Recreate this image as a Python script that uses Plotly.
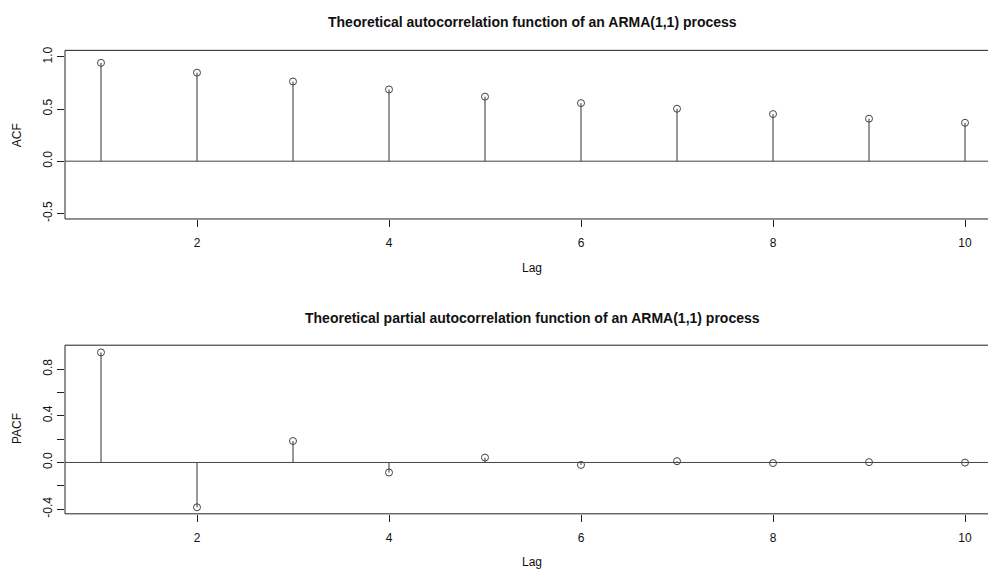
import plotly.graph_objects as go

lags = [1, 2, 3, 4, 5, 6, 7, 8, 9, 10]
acf_vals = [0.943, 0.849, 0.764, 0.688, 0.619, 0.557, 0.503, 0.452, 0.408, 0.368]
pacf_vals = [0.943, -0.384, 0.184, -0.086, 0.042, -0.021, 0.011, -0.005, 0.003, -0.001]

acf_title = "Theoretical autocorrelation function of an ARMA(1,1) process"
pacf_title = "Theoretical partial autocorrelation function of an ARMA(1,1) process"
x_ticks = [2, 4, 6, 8, 10]
acf_yticks = [-0.5, 0.0, 0.5, 1.0]
acf_yticktext = ["-0.5", "0.0", "0.5", "1.0"]
pacf_yticks = [-0.4, -0.2, 0.0, 0.2, 0.4, 0.6, 0.8]
pacf_yticktext = ["-0.4", "", "0.0", "", "0.4", "", "0.8"]

W, H = 988, 576
FONT = "Liberation Sans, Arial, Helvetica, sans-serif"
STEM = "#333333"
FRAME = "#222222"


def stems(xs, ys):
    sx, sy = [], []
    for x, y in zip(xs, ys):
        sx += [x, x, None]
        sy += [0, y, None]
    return sx, sy


fig = go.Figure()
for vals, xa, ya in [(acf_vals, "x", "y"), (pacf_vals, "x2", "y2")]:
    sx, sy = stems(lags, vals)
    fig.add_trace(go.Scatter(x=sx, y=sy, mode="lines", xaxis=xa, yaxis=ya,
                             line=dict(color=STEM, width=1), hoverinfo="skip",
                             showlegend=False))
    fig.add_trace(go.Scatter(x=lags, y=vals, mode="markers", xaxis=xa, yaxis=ya,
                             marker=dict(symbol="circle-open", size=7,
                                         color="#444444", line=dict(width=1)),
                             showlegend=False))


def py(p):
    return 1 - p / H


def px(p):
    return p / W


xr = [0.625, 0.625 + (W - 65) / 96.0]

xcommon = dict(range=xr, tickvals=x_ticks, ticktext=[str(t) for t in x_ticks],
               ticks="outside", ticklen=7, tickwidth=1, tickcolor=FRAME,
               showline=False, showgrid=False, zeroline=False,
               ticklabelstandoff=6,
               tickfont=dict(family=FONT, size=12, color="#111"),
               domain=[px(65), 1.0])
ycommon = dict(ticks="outside", ticklen=7, tickwidth=1, tickcolor=FRAME,
               showline=False, showgrid=False, zeroline=False, tickangle=-90,
               tickfont=dict(family=FONT, size=12, color="#111"))


def frame(xd, ya):
    ln = dict(color=FRAME, width=1)
    return [
        dict(type="line", xref=xd, yref=ya, x0=0, x1=1, y0=0, y1=0, line=ln),
        dict(type="line", xref=xd, yref=ya, x0=0, x1=1, y0=1, y1=1, line=ln),
        dict(type="line", xref=xd, yref=ya, x0=0, x1=0, y0=0, y1=1, line=ln),
    ]


shapes = frame("x domain", "y domain") + frame("x2 domain", "y2 domain") + [
    dict(type="line", xref="x domain", yref="y", x0=0, x1=1, y0=0, y1=0,
         line=dict(color="#444444", width=1)),
    dict(type="line", xref="x2 domain", yref="y2", x0=0, x1=1, y0=0, y1=0,
         line=dict(color="#444444", width=1)),
]

fig.update_layout(
    width=W, height=H,
    margin=dict(l=0, r=0, t=0, b=0),
    plot_bgcolor="white", paper_bgcolor="white",
    xaxis=dict(**xcommon, anchor="y"),
    yaxis=dict(**ycommon, anchor="x", range=[-0.554, 1.063],
               tickvals=acf_yticks, ticktext=acf_yticktext,
               domain=[py(218), py(47)]),
    xaxis2=dict(**xcommon, anchor="y2"),
    yaxis2=dict(**ycommon, anchor="x2", range=[-0.44, 1.005],
                tickvals=pacf_yticks, ticktext=pacf_yticktext,
                domain=[py(517), py(346)]),
    shapes=shapes,
    annotations=[
        dict(text="<b>" + acf_title + "</b>", xref="paper", yref="paper",
             x=px(532), y=py(18), showarrow=False, xanchor="center", yanchor="middle",
             font=dict(family=FONT, size=14, color="#111")),
        dict(text="<b>" + pacf_title + "</b>", xref="paper", yref="paper",
             x=px(532), y=py(318), showarrow=False, xanchor="center", yanchor="middle",
             font=dict(family=FONT, size=14, color="#111")),
        dict(text="Lag", xref="paper", yref="paper", x=px(532), y=py(268),
             showarrow=False, xanchor="center", yanchor="middle",
             font=dict(family=FONT, size=12, color="#111")),
        dict(text="Lag", xref="paper", yref="paper", x=px(532), y=py(566),
             showarrow=False, xanchor="center", yanchor="middle",
             font=dict(family=FONT, size=12, color="#111")),
        dict(text="ACF", xref="paper", yref="paper", x=px(17), y=py(133),
             showarrow=False, xanchor="center", yanchor="middle", textangle=-90,
             font=dict(family=FONT, size=12, color="#111")),
        dict(text="PACF", xref="paper", yref="paper", x=px(17), y=py(431),
             showarrow=False, xanchor="center", yanchor="middle", textangle=-90,
             font=dict(family=FONT, size=12, color="#111")),
    ],
)

fig.write_html("out.html")
